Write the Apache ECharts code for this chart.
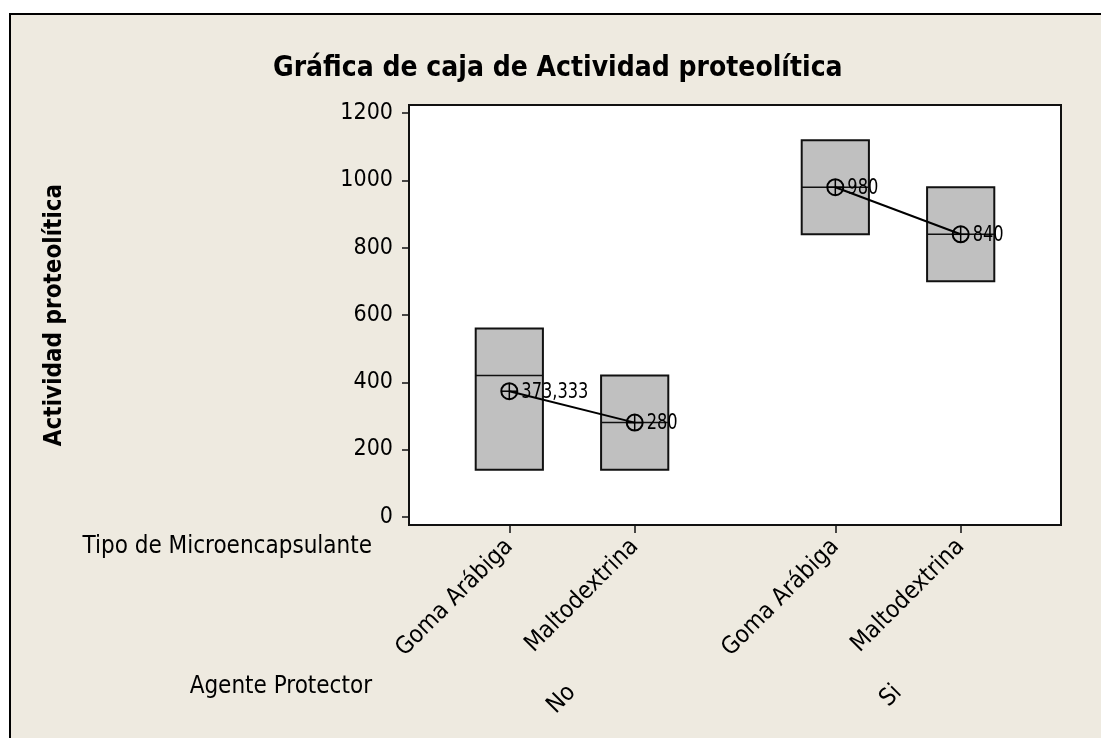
<!DOCTYPE html>
<html>
<head>
<meta charset="utf-8">
<script src="https://cdn.jsdelivr.net/npm/echarts@6/dist/echarts.min.js"></script>
<style>
  html, body { margin: 0; padding: 0; background: #ffffff; }
  #chart { width: 1101px; height: 738px; }
</style>
</head>
<body>
<div id="chart"></div>
<script>
// ---------------- data ----------------
const groups = ['No', 'Si'];                                  // Agente Protector
const types = ['Goma Arábiga', 'Maltodextrina'];              // Tipo de Microencapsulante
// raw observations (Actividad proteolítica) per group / type
const noGoma = [140, 420, 560];
const noMalto = [140, 280, 420];
const siGoma = [840, 980, 1120];
const siMalto = [700, 840, 980];
const yTicks = [0, 200, 400, 600, 800, 1000, 1200];

const titleText = 'Gráfica de caja de Actividad proteolítica';
const yName = 'Actividad proteolítica';
const xName1 = 'Tipo de Microencapsulante';
const xName2 = 'Agente Protector';

// ---------------- layout ----------------
const slot = { start: 4, inner: 5, between: 8, total: 26 };
const boxWidthUnits = 2.68;
const FONT = 'DejaVu Sans Condensed, Tahoma, sans-serif';

const groupData = [[noGoma, noMalto], [siGoma, siMalto]];

function quantile(sorted, q) {            // Minitab method: position q*(n+1)
  const n = sorted.length;
  let p = q * (n + 1);
  if (p <= 1) return sorted[0];
  if (p >= n) return sorted[n - 1];
  const lo = Math.floor(p), f = p - lo;
  return sorted[lo - 1] + f * (sorted[lo] - sorted[lo - 1]);
}
function stats(arr) {
  const s = arr.slice().sort((a, b) => a - b);
  const mean = s.reduce((a, b) => a + b, 0) / s.length;
  return { q1: quantile(s, 0.25), med: quantile(s, 0.5), q3: quantile(s, 0.75), min: s[0], max: s[s.length - 1], mean };
}
function fmt(v) {
  let t = v.toFixed(3).replace(/\.?0+$/, '');
  return t.replace('.', ',');
}

const boxes = [];
const means = [];
const meanLines = [];
const tickPos = [];
const tickNames = {};
const groupPos = [];
const groupNames = {};
groupData.forEach((g, gi) => {
  const line = [];
  g.forEach((obs, ti) => {
    const x = slot.start + gi * (slot.inner + slot.between) + ti * slot.inner;
    const st = stats(obs);
    boxes.push([x, st.q1, st.med, st.q3, st.min, st.max]);
    means.push([x, st.mean]);
    line.push([x, st.mean]);
    tickPos.push(x);
    tickNames[x] = types[ti];
  });
  meanLines.push(line);
  const c = (line[0][0] + line[line.length - 1][0]) / 2;
  groupPos.push(c);
  groupNames[c] = groups[gi];
});

const chart = echarts.init(document.getElementById('chart'), null, { renderer: 'canvas' });

const series = [
  {
    type: 'custom',
    name: 'boxes',
    xAxisIndex: 0, yAxisIndex: 0,
    z: 2,
    renderItem: function (params, api) {
      const x = api.value(0);
      const pQ3 = api.coord([x, api.value(3)]);
      const pQ1 = api.coord([x, api.value(1)]);
      const pM = api.coord([x, api.value(2)]);
      const pMin = api.coord([x, api.value(4)]);
      const pMax = api.coord([x, api.value(5)]);
      const w = api.size([boxWidthUnits, 0])[0];
      return {
        type: 'group',
        children: [
          { type: 'line', shape: { x1: pQ3[0], y1: pQ3[1], x2: pMax[0], y2: pMax[1] }, style: { stroke: '#000', lineWidth: 1.5 } },
          { type: 'line', shape: { x1: pQ1[0], y1: pQ1[1], x2: pMin[0], y2: pMin[1] }, style: { stroke: '#000', lineWidth: 1.5 } },
          { type: 'rect', shape: { x: pQ3[0] - w / 2, y: pQ3[1], width: w, height: pQ1[1] - pQ3[1] },
            style: { fill: '#C0C0C0', stroke: '#111', lineWidth: 2 } },
          { type: 'line', shape: { x1: pM[0] - w / 2, y1: pM[1], x2: pM[0] + w / 2, y2: pM[1] },
            style: { stroke: '#111', lineWidth: 1.5 } }
        ]
      };
    },
    data: boxes
  }
];
meanLines.forEach((ln) => {
  series.push({
    type: 'line', z: 3, symbol: 'none', silent: true,
    lineStyle: { color: '#000', width: 2 },
    data: ln
  });
});
series.push({
  type: 'custom',
  name: 'means',
  z: 4,
  renderItem: function (params, api) {
    const p = api.coord([api.value(0), api.value(1)]);
    const r = 8;
    return {
      type: 'group',
      children: [
        { type: 'circle', shape: { cx: p[0], cy: p[1], r: r }, style: { fill: 'none', stroke: '#000', lineWidth: 2 } },
        { type: 'line', shape: { x1: p[0] - r, y1: p[1], x2: p[0] + r, y2: p[1] }, style: { stroke: '#000', lineWidth: 1.5 } },
        { type: 'line', shape: { x1: p[0], y1: p[1] - r, x2: p[0], y2: p[1] + r }, style: { stroke: '#000', lineWidth: 1.5 } },
        { type: 'text', x: p[0] + 12, y: p[1] + 1, scaleX: 0.82, scaleY: 1,
          style: { text: fmt(api.value(1)), fill: '#000', font: '22px "DejaVu Sans Condensed", sans-serif',
                   textAlign: 'left', textVerticalAlign: 'middle' } }
      ]
    };
  },
  data: means
});

const option = {
  backgroundColor: '#EEEAE0',
  animation: false,
  graphic: [
    { type: 'rect', shape: { x: 0, y: 0, width: 1101, height: 13 }, style: { fill: '#ffffff' }, silent: true },
    { type: 'rect', shape: { x: 0, y: 0, width: 9, height: 738 }, style: { fill: '#ffffff' }, silent: true },
    { type: 'line', shape: { x1: 10, y1: 14, x2: 1101, y2: 14 }, style: { stroke: '#000', lineWidth: 2 }, silent: true },
    { type: 'line', shape: { x1: 10, y1: 13, x2: 10, y2: 738 }, style: { stroke: '#000', lineWidth: 2 }, silent: true }
  ],
  title: {
    text: titleText,
    left: 268, top: 50,
    textStyle: { fontFamily: FONT, fontWeight: 'bold', fontSize: 28, color: '#000' }
  },
  grid: {
    left: 409, top: 105, width: 652, height: 420,
    show: true, backgroundColor: '#ffffff', borderColor: '#111', borderWidth: 2,
    outerBoundsMode: 'none'
  },
  xAxis: [
    {
      type: 'value', min: 0, max: slot.total,
      axisLine: { show: true, onZero: false, lineStyle: { color: '#111', width: 2 } },
      axisTick: { show: true, length: 8, customValues: tickPos, lineStyle: { color: '#111', width: 1.5 } },
      axisLabel: { show: true, customValues: tickPos, rotate: 45, margin: 18, fontFamily: FONT, fontSize: 24, color: '#000',
                   formatter: (v) => tickNames[v] || '' },
      splitLine: { show: false }
    },
    {
      type: 'value', min: 0, max: slot.total, position: 'bottom', offset: 162,
      name: xName2, nameLocation: 'start', nameGap: 37,
      nameTextStyle: { fontFamily: FONT, fontSize: 24, color: '#000', verticalAlign: 'middle' },
      axisLine: { show: false, onZero: false },
      axisTick: { show: false },
      axisLabel: { show: true, customValues: groupPos, rotate: 45, margin: 2, fontFamily: FONT, fontSize: 24, color: '#000',
                   formatter: (v) => groupNames[v] || '' },
      splitLine: { show: false }
    },
    {
      type: 'value', min: 0, max: slot.total, position: 'bottom', offset: 22,
      name: xName1, nameLocation: 'start', nameGap: 37,
      nameTextStyle: { fontFamily: FONT, fontSize: 24, color: '#000', verticalAlign: 'middle' },
      axisLine: { show: false, onZero: false },
      axisTick: { show: false },
      axisLabel: { show: false },
      splitLine: { show: false }
    }
  ],
  yAxis: {
    type: 'value', min: -24.5, max: 1224.5,
    name: yName, nameLocation: 'middle', nameGap: 342, nameRotate: 90,
    nameTextStyle: { fontFamily: FONT, fontWeight: 'bold', fontSize: 24, color: '#000' },
    axisLine: { show: true, onZero: false, lineStyle: { color: '#111', width: 2 } },
    axisTick: { show: true, length: 7, customValues: yTicks, lineStyle: { color: '#111', width: 1.5 } },
    axisLabel: { show: true, customValues: yTicks, margin: 16, fontFamily: FONT, fontSize: 23, color: '#000',
                 formatter: (v) => String(v) },
    splitLine: { show: false }
  },
  series: series
};
chart.setOption(option);
</script>
</body>
</html>
